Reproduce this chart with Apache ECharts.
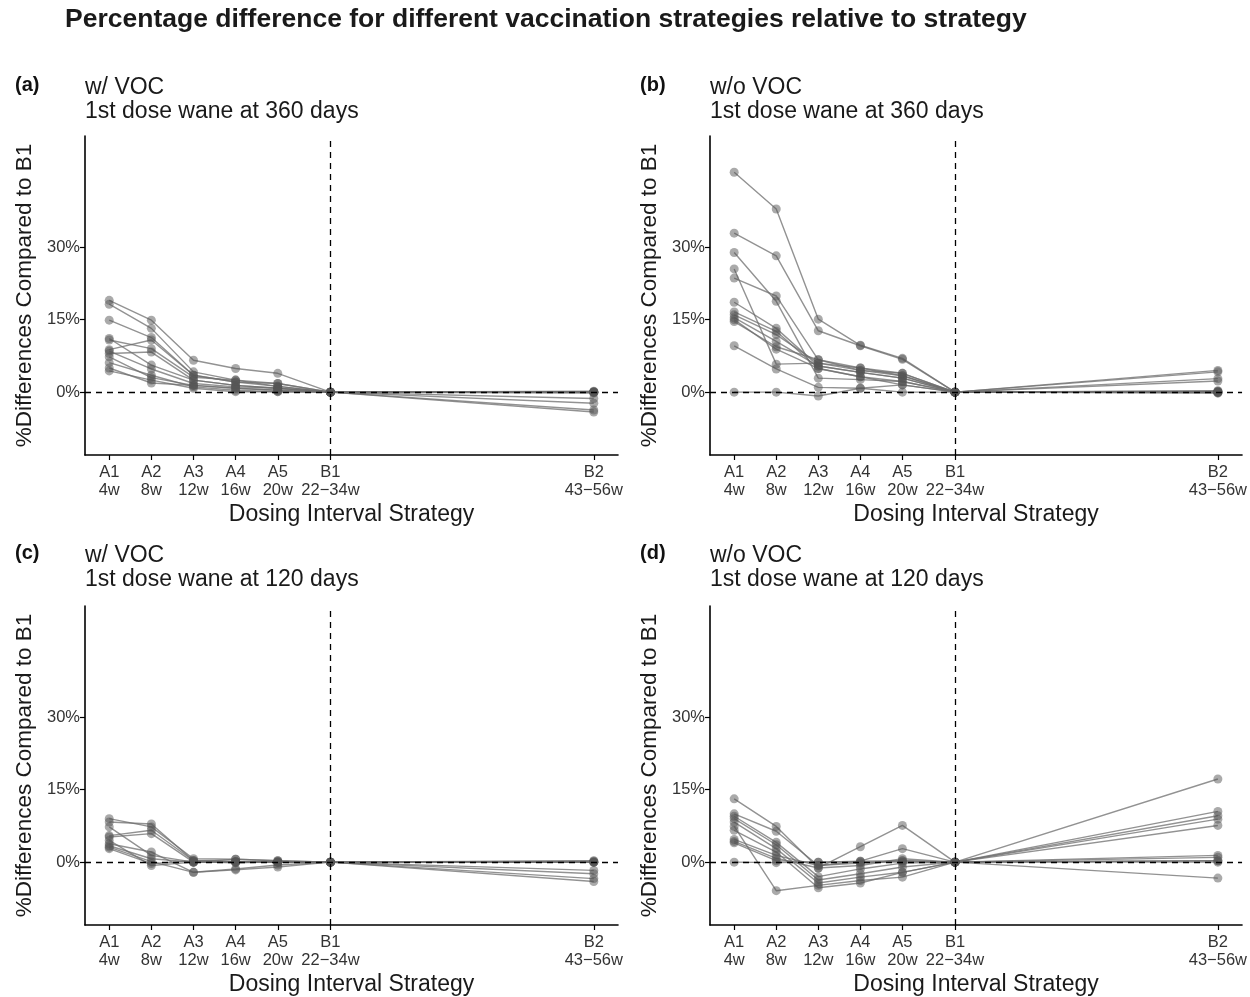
<!DOCTYPE html>
<html>
<head>
<meta charset="utf-8">
<script src="https://cdn.jsdelivr.net/npm/echarts@6/dist/echarts.min.js"></script>
<style>html,body{margin:0;padding:0;background:#fff;}#chart{width:1250px;height:997px;}</style>
</head>
<body>
<div id="chart"></div>
<script>
// x positions (weeks) of strategies and tick labels
const xPos = [4, 8, 12, 16, 20, 25, 50];
const xTickLabels = ['A1\n4w', 'A2\n8w', 'A3\n12w', 'A4\n16w', 'A5\n20w', 'B1\n22\u221234w', 'B2\n43\u221256w'];
const yTicks = [0, 15, 30];

// Panel (a): w/ VOC, wane 360 days ; each row = [A1,A2,A3,A4,A5,B1,B2]
const panelA = [
  [19.0, 14.9, 6.6, 4.9, 3.9, 0, 0.2],
  [18.2, 13.2, 4.2, 2.5, 1.8, 0, 0.0],
  [14.9, 11.3, 3.5, 2.1, 1.2, 0, -1.3],
  [11.1, 5.6, 2.5, 1.4, 0.8, 0, 0.0],
  [10.8, 9.0, 3.1, 2.5, 1.2, 0, -2.3],
  [8.8, 10.8, 3.5, 2.1, 1.8, 0, 0.1],
  [8.5, 4.8, 1.8, 1.1, 0.8, 0, -3.7],
  [8.0, 8.3, 2.5, 1.4, 0.8, 0, 0.0],
  [7.3, 3.0, 1.4, 0.8, 0.4, 0, -4.1],
  [6.1, 3.5, 1.1, 0.4, 0.1, 0, 0.0],
  [4.4, 2.5, 0.8, 0.1, 0.1, 0, -0.2],
  [5.0, 1.9, 1.4, 0.8, 0.4, 0, 0.0]
];
// Panel (b): w/o VOC, wane 360 days
const panelB = [
  [45.5, 37.9, 15.1, 9.7, 7.0, 0, 4.5],
  [32.9, 28.2, 12.7, 9.6, 6.8, 0, 4.2],
  [28.9, 18.8, 2.9, 2.6, 2.2, 0, 2.8],
  [25.5, 5.8, 6.0, 5.0, 3.4, 0, 2.3],
  [23.6, 19.9, 6.7, 4.5, 3.9, 0, 0.3],
  [18.6, 13.2, 5.4, 4.1, 2.9, 0, 0.0],
  [16.6, 12.6, 4.9, 3.2, 2.2, 0, 0.0],
  [16.0, 11.9, 6.0, 4.5, 3.4, 0, 0.1],
  [15.4, 10.5, 5.4, 4.1, 2.9, 0, -0.2],
  [15.0, 8.9, 4.9, 3.2, 1.5, 0, 0.0],
  [14.6, 9.4, 6.7, 5.0, 3.9, 0, 0.2],
  [9.6, 4.8, 1.0, 0.8, 1.5, 0, 0.0],
  [0.0, 0.0, -0.8, 0.8, 0.0, 0, -0.1]
];
// Panel (c): w/ VOC, wane 120 days
const panelC = [
  [9.0, 7.3, 0.7, 0.6, 0.3, 0, 0.3],
  [8.3, 7.9, 0.3, 0.1, 0.0, 0, 0.0],
  [7.3, 1.4, 0.0, -0.1, 0.0, 0, -1.7],
  [5.5, 6.6, 0.3, 0.1, 0.0, 0, 0.0],
  [5.2, 5.9, 0.0, 0.6, 0.3, 0, 0.0],
  [3.8, 2.1, -2.1, -1.4, -0.6, 0, -2.4],
  [3.4, 0.7, 0.0, 0.1, 0.1, 0, 0.0],
  [3.1, 0.1, -2.1, -1.6, -1.0, 0, -3.4],
  [2.8, -0.3, 0.3, 0.1, 0.0, 0, 0.2],
  [4.5, -0.7, 0.0, -0.1, 0.0, 0, -4.0]
];
// Panel (d): w/o VOC, wane 120 days
const panelD = [
  [13.1, 7.4, -1.2, 3.2, 7.6, 0, 17.2],
  [10.0, 6.4, -0.7, 0.2, 2.8, 0, 10.5],
  [9.5, 4.1, -3.0, -1.4, -0.2, 0, 9.6],
  [9.0, 3.6, -3.7, -2.4, -1.0, 0, 8.9],
  [8.3, 2.8, -4.3, -3.1, -2.1, 0, 7.6],
  [7.4, -5.9, -4.8, -3.8, -3.1, 0, -3.3],
  [6.6, 2.1, -5.3, -4.3, -2.1, 0, 1.4],
  [4.7, 1.4, -0.7, -0.2, 0.3, 0, 1.0],
  [4.3, 0.8, -1.2, -0.7, 0.7, 0, 0.3],
  [4.0, 0.3, 0.0, 0.2, 0.3, 0, 0.0],
  [0.0, -0.1, 0.0, 0.0, 0.0, 0, 0.3]
];

const panelTags = ['(a)', '(b)', '(c)', '(d)'];
const panelLine1 = ['w/ VOC', 'w/o VOC', 'w/ VOC', 'w/o VOC'];
const panelLine2 = ['1st dose wane at 360 days', '1st dose wane at 360 days', '1st dose wane at 120 days', '1st dose wane at 120 days'];
const panels = [panelA, panelB, panelC, panelD];

const FONT = 'Liberation Sans, Arial, Helvetica, sans-serif';
const gridPos = [
  {left: 85, top: 136},
  {left: 710, top: 136},
  {left: 85, top: 606},
  {left: 710, top: 606}
];
const GW = 533, GH = 319;

const grids = [], xAxes = [], yAxes = [], series = [], graphics = [];
const labelMap = {};
xPos.forEach((x, i) => labelMap[x] = xTickLabels[i]);

gridPos.forEach((g, k) => {
  grids.push({left: g.left, top: g.top, width: GW, height: GH, containLabel: false});
  xAxes.push({
    type: 'value', gridIndex: k, min: 1.7, max: 52.3,
    name: 'Dosing Interval Strategy', nameLocation: 'middle', nameGap: 48,
    nameTextStyle: {fontFamily: FONT, fontSize: 23, color: '#1a1a1a'},
    axisLine: {show: true, onZero: false, lineStyle: {color: '#000', width: 1.6}},
    axisTick: {show: true, customValues: xPos, length: 5, lineStyle: {color: '#000', width: 1.2}},
    axisLabel: {customValues: xPos, formatter: v => labelMap[v] || '', fontFamily: FONT, fontSize: 16.5, color: '#333', lineHeight: 18, margin: 8},
    splitLine: {show: false}
  });
  yAxes.push({
    type: 'value', gridIndex: k, min: -13, max: 53,
    name: '%Differences Compared to B1', nameLocation: 'middle', nameGap: 49,
    nameTextStyle: {fontFamily: FONT, fontSize: 22.5, color: '#1a1a1a'},
    axisLine: {show: true, onZero: false, lineStyle: {color: '#000', width: 1.6}},
    axisTick: {show: true, customValues: yTicks, length: 5, lineStyle: {color: '#000', width: 1.2}},
    axisLabel: {customValues: yTicks, formatter: '{value}%', fontFamily: FONT, fontSize: 16.5, color: '#333', margin: 5},
    splitLine: {show: false}
  });
  panels[k].forEach((row, j) => {
    const s = {
      type: 'line', xAxisIndex: k, yAxisIndex: k,
      data: xPos.map((x, i) => [x, row[i]]),
      symbol: 'circle', symbolSize: 9,
      lineStyle: {color: 'rgba(110,110,110,0.75)', width: 1.4},
      itemStyle: {color: 'rgba(85,85,85,0.5)', borderWidth: 0},
      silent: true, z: 2
    };
    if (j === 0) {
      s.markLine = {
        silent: true, symbol: 'none', animation: false,
        label: {show: false},
        lineStyle: {color: '#000', type: [6, 5], width: 1.3},
        data: [{yAxis: 0}, {xAxis: 25}]
      };
    }
    series.push(s);
  });
  const tagX = k % 2 === 0 ? 15 : 640;
  const tagY = k < 2 ? 75 : 543;
  graphics.push({type: 'text', left: tagX, top: tagY, style: {text: panelTags[k], font: 'bold 20px ' + FONT, fill: '#111'}});
  graphics.push({type: 'text', left: g.left, top: tagY + 1, style: {text: panelLine1[k], font: '23px ' + FONT, fill: '#1a1a1a'}});
  graphics.push({type: 'text', left: g.left, top: tagY + 25, style: {text: panelLine2[k], font: '23px ' + FONT, fill: '#1a1a1a'}});
});

graphics.push({type: 'text', left: 65, top: 6, style: {text: 'Percentage difference for different vaccination strategies relative to strategy', font: 'bold 26.5px ' + FONT, fill: '#1a1a1a'}});

const chart = echarts.init(document.getElementById('chart'), null, {renderer: 'canvas'});
chart.setOption({
  animation: false,
  backgroundColor: '#fff',
  grid: grids, xAxis: xAxes, yAxis: yAxes, series: series, graphic: graphics
});
</script>
</body>
</html>
